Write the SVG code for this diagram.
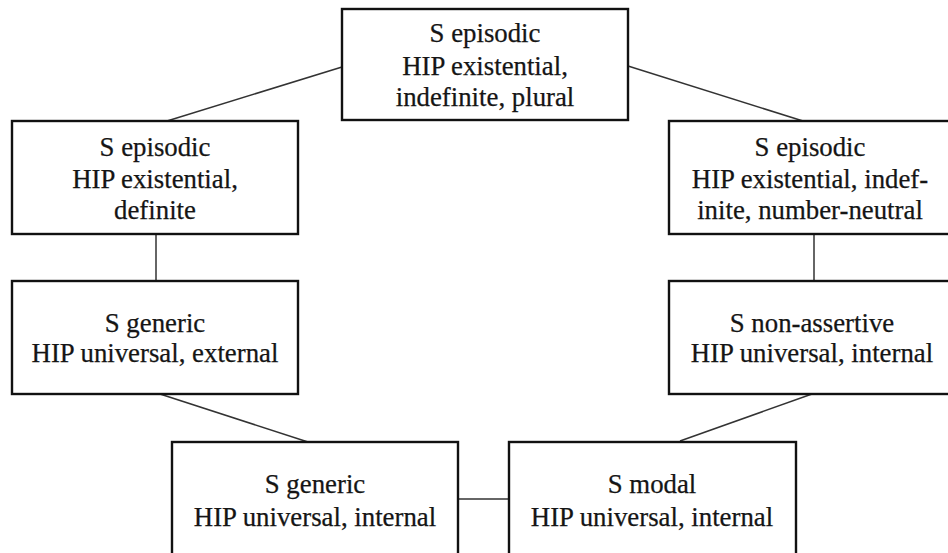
<svg xmlns="http://www.w3.org/2000/svg" width="948" height="553" viewBox="0 0 948 553">
<style>
.box{fill:#fff;stroke:#111;stroke-width:2.4}
.lbl{font-family:"Liberation Serif","Times New Roman",serif;font-size:26.8px;fill:#151515;stroke:#151515;stroke-width:0.25;text-anchor:middle}
.conn line{stroke:#333;stroke-width:1.5}
</style>
<rect width="948" height="553" fill="#fff"/>
<g id="connectors" class="conn">
<line x1="342" y1="67" x2="167" y2="121"/>
<line x1="628" y1="66" x2="803" y2="121"/>
<line x1="156" y1="234" x2="156" y2="281"/>
<line x1="814" y1="234" x2="814" y2="281"/>
<line x1="160" y1="394" x2="308" y2="442"/>
<line x1="812" y1="394" x2="680" y2="441"/>
<line x1="458" y1="499" x2="509" y2="499"/>
</g>
<g id="n-top">
<rect class="box" x="342" y="9" width="286" height="111"/>
<text class="lbl" x="485" y="42">S episodic</text>
<text class="lbl" x="485" y="75">HIP existential,</text>
<text class="lbl" x="485" y="106">indefinite, plural</text>
</g>
<g id="n-ep-def">
<rect class="box" x="12" y="121" width="286" height="113"/>
<text class="lbl" x="155" y="156">S episodic</text>
<text class="lbl" x="155" y="188">HIP existential,</text>
<text class="lbl" x="155" y="219">definite</text>
</g>
<g id="n-ep-neutral">
<rect class="box" x="669" y="121" width="283" height="113"/>
<text class="lbl" x="810" y="156">S episodic</text>
<text class="lbl" x="810" y="188">HIP existential, indef-</text>
<text class="lbl" x="810" y="219">inite, number-neutral</text>
</g>
<g id="n-gen-ext">
<rect class="box" x="12" y="281" width="286" height="113"/>
<text class="lbl" x="155" y="332">S generic</text>
<text class="lbl" x="155" y="362">HIP universal, external</text>
</g>
<g id="n-nonassert">
<rect class="box" x="669" y="281" width="283" height="113"/>
<text class="lbl" x="812" y="332">S non-assertive</text>
<text class="lbl" x="812" y="362">HIP universal, internal</text>
</g>
<g id="n-gen-int">
<rect class="box" x="172" y="442" width="286" height="130"/>
<text class="lbl" x="315" y="493">S generic</text>
<text class="lbl" x="315" y="526">HIP universal, internal</text>
</g>
<g id="n-modal">
<rect class="box" x="509" y="442" width="287" height="130"/>
<text class="lbl" x="652" y="493">S modal</text>
<text class="lbl" x="652" y="526">HIP universal, internal</text>
</g>
</svg>
